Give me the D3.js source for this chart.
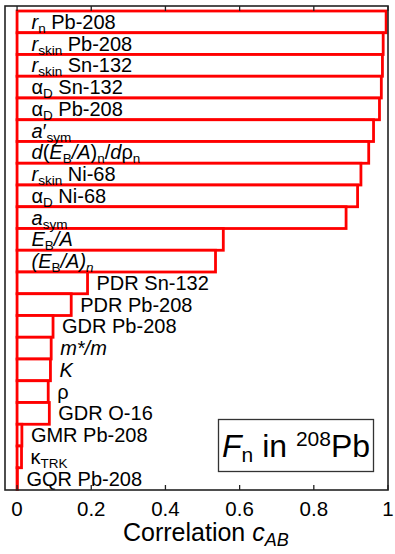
<!DOCTYPE html>
<html>
<head>
<meta charset="utf-8">
<script src="https://cdn.jsdelivr.net/npm/d3@7"></script>
<style>
  body { margin: 0; background: #fff; }
  svg text { font-family: "Liberation Sans", Arial, Helvetica, sans-serif; fill: #000; }
</style>
</head>
<body>
<div id="chart"></div>
<script>
// *** data: labels use a tiny markup, ^..^ = italic, _{..} = subscript
var labels = [
    "^r^_{n} Pb-208",
    "^r^_{skin} Pb-208",
    "^r^_{skin} Sn-132",
    "α_{D} Sn-132",
    "α_{D} Pb-208",
    "^a^′_{sym}",
    "^d^(^E^_{B}^/A^)_{n}/^d^ρ_{n}",
    "^r^_{skin} Ni-68",
    "α_{D} Ni-68",
    "^a^_{sym}",
    "^E^_{B}^/A^",
    "^(E^_{B}^/A)^_{^n^}",
    "PDR Sn-132",
    "PDR Pb-208",
    "GDR Pb-208",
    "^m*/m^",
    "^K^",
    "ρ",
    "GDR O-16",
    "GMR Pb-208",
    "κ_{TRK}",
    "GQR Pb-208"
];
var correlations = [0.995, 0.987, 0.985, 0.982, 0.977, 0.961, 0.948, 0.927, 0.918, 0.887,
    0.556, 0.535, 0.190, 0.146, 0.097, 0.092, 0.090, 0.084, 0.087, 0.013, 0.012, 0.001];
var xTicks = [0, 0.2, 0.4, 0.6, 0.8, 1];
var tickLabels = ["0", "0.2", "0.4", "0.6", "0.8", "1"];

var data = labels.map(function(l, i) { return {label: l, value: correlations[i]}; });

var width = 395, height = 554;
var frame = {left: 5, right: 388, top: 6, bottom: 490};

var svg = d3.select("#chart").append("svg")
    .attr("width", width)
    .attr("height", height);

var x = d3.scaleLinear().domain([-0.0325, 1]).range([frame.left, frame.right]);
var y = d3.scaleBand().domain(d3.range(data.length)).range([11, 489.5]).padding(0);

// parse the markup into segments
function parse(str) {
    var segs = [], italic = false, sub = false, buf = "";
    function flush() {
        if (buf) segs.push({t: buf, i: italic, s: sub});
        buf = "";
    }
    for (var k = 0; k < str.length; k++) {
        var c = str[k];
        if (c === "^") { flush(); italic = !italic; }
        else if (c === "_" && str[k + 1] === "{") { flush(); sub = true; k++; }
        else if (c === "}" && sub) { flush(); sub = false; }
        else buf += c;
    }
    flush();
    return segs;
}

function writeRich(textSel, segs, size, subSize, shift) {
    var prevSub = false;
    segs.forEach(function(s) {
        var ts = textSel.append("tspan").text(s.t)
            .style("font-style", s.i ? "italic" : "normal")
            .style("font-size", (s.s ? subSize : size) + "px");
        if (s.s && !prevSub) ts.attr("dy", shift);
        if (!s.s && prevSub) ts.attr("dy", -shift);
        prevSub = s.s;
    });
}

// bars
svg.append("g").selectAll("rect")
    .data(data)
    .enter().append("rect")
    .attr("x", x(0))
    .attr("y", function(d, i) { return y(i); })
    .attr("width", function(d) { return x(d.value) - x(0); })
    .attr("height", y.bandwidth())
    .attr("fill", "#fff")
    .attr("stroke", "#ff0000")
    .attr("stroke-width", 2.8);

// bar labels: inside long bars, just right of short ones
svg.append("g").selectAll("text")
    .data(data)
    .enter().append("text")
    .attr("x", function(d) { return d.value > 0.3 ? 31.5 : Math.max(25, x(d.value) + 9); })
    .attr("y", function(d, i) { return y(i) + y.bandwidth() - 4; })
    .style("font-size", "20px")
    .each(function(d) { writeRich(d3.select(this), parse(d.label), 20, 13.5, 4); });

// frame
svg.append("rect")
    .attr("x", frame.left).attr("y", frame.top)
    .attr("width", frame.right - frame.left)
    .attr("height", frame.bottom - frame.top)
    .attr("fill", "none")
    .attr("stroke", "#222")
    .attr("stroke-width", 1.6);

// ticks top and bottom, pointing inward
var ticks = svg.append("g");
ticks.selectAll(".tb").data(xTicks).enter().append("line")
    .attr("x1", x).attr("x2", x)
    .attr("y1", frame.bottom).attr("y2", frame.bottom - 5)
    .attr("stroke", "#222").attr("stroke-width", 1.3);
ticks.selectAll(".tt").data(xTicks).enter().append("line")
    .attr("x1", x).attr("x2", x)
    .attr("y1", frame.top).attr("y2", frame.top + 5)
    .attr("stroke", "#222").attr("stroke-width", 1.3);
ticks.selectAll("text").data(xTicks).enter().append("text")
    .attr("x", x)
    .attr("y", 515.7)
    .attr("text-anchor", "middle")
    .style("font-size", "20.5px")
    .text(function(d, i) { return tickLabels[i]; });

// axis title
var title = svg.append("text")
    .attr("x", 123)
    .attr("y", 541)
    .style("font-size", "25px");
writeRich(title, parse("Correlation ^c^_{^AB^}"), 25, 18, 5);

// legend box
svg.append("rect")
    .attr("x", 218.5).attr("y", 419.5)
    .attr("width", 155).attr("height", 52)
    .attr("fill", "#fff")
    .attr("stroke", "#333")
    .attr("stroke-width", 1.3);
var leg = svg.append("text")
    .attr("x", 222)
    .attr("y", 456.7)
    .style("font-size", "32px");
leg.append("tspan").style("font-style", "italic").text("F");
leg.append("tspan").attr("dy", 5).style("font-size", "21px").text("n");
leg.append("tspan").attr("dy", -5).text(" in ");
leg.append("tspan").attr("dy", -11).style("font-size", "21px").text("208");
leg.append("tspan").attr("dy", 11).text("Pb");
</script>
</body>
</html>
